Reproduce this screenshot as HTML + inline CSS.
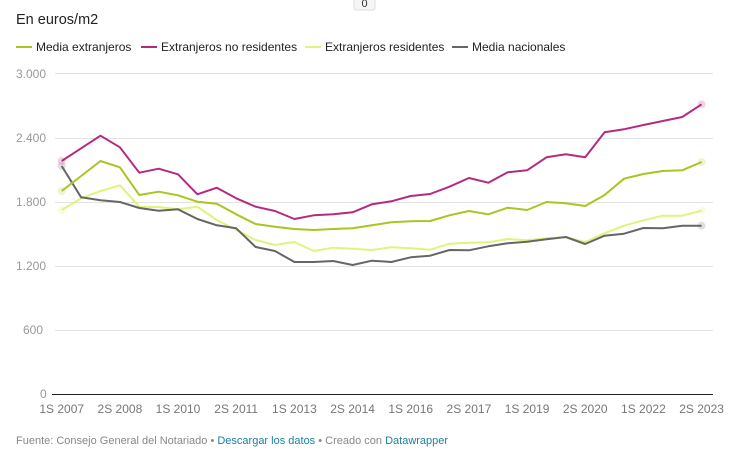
<!DOCTYPE html>
<html><head><meta charset="utf-8"><style>
body{margin:0;background:#fff;width:734px;height:466px;overflow:hidden;font-family:"Liberation Sans",sans-serif;}
svg{position:absolute;left:0;top:0}
</style></head><body>
<svg id="s" width="734" height="466" xmlns="http://www.w3.org/2000/svg" font-family="Liberation Sans, sans-serif">
<rect x="354" y="-4" width="21" height="14" rx="2" fill="#f6f6f6" stroke="#ddd"/>
<text x="364.5" y="7" font-size="11" fill="#333" text-anchor="middle">0</text>
<text x="16" y="24" font-size="14.5" fill="#222">En euros/m2</text>
<g font-size="12" fill="#222">
<rect x="16" y="46" width="16" height="2" fill="#a8c520"/><text x="36" y="51">Media extranjeros</text>
<rect x="141" y="46" width="16" height="2" fill="#b52a80"/><text x="161" y="51">Extranjeros no residentes</text>
<rect x="305" y="46" width="16" height="2" fill="#e2f27a"/><text x="325" y="51">Extranjeros residentes</text>
<rect x="452" y="46" width="16" height="2" fill="#666"/><text x="472" y="51">Media nacionales</text>
</g>
<g stroke="#e3e3e3" stroke-width="1">
<line x1="55" x2="713" y1="73.5" y2="73.5"/><line x1="55" x2="713" y1="138.5" y2="138.5"/>
<line x1="55" x2="713" y1="202.5" y2="202.5"/><line x1="55" x2="713" y1="266.5" y2="266.5"/>
<line x1="55" x2="713" y1="330.5" y2="330.5"/>
</g>
<line x1="52" x2="713" y1="394.5" y2="394.5" stroke="#222" stroke-width="1"/>
<g font-size="12" fill="#999">
<text x="16" y="78">3.000</text><text x="16" y="142">2.400</text><text x="16" y="206">1.800</text>
<text x="16" y="270">1.200</text><text x="23" y="334">600</text><text x="40" y="398">0</text>
</g>
<g id="xl" font-size="12" fill="#777" text-anchor="middle"></g>
<g id="ln" fill="none" stroke-width="2" stroke-linejoin="round"></g>
<text x="16" y="444" font-size="11" fill="#888">Fuente: Consejo General del Notariado • <tspan fill="#1d81a2">Descargar los datos</tspan> • Creado con <tspan fill="#1d81a2">Datawrapper</tspan></text>
</svg>
<script>
var NS="http://www.w3.org/2000/svg";
function X(i){return 61.7+19.39*i;}
var mag=[303,265,227,262,338,326,343,403,383,415,440,453,477,466,463,457,433,424,408,402,380,354,368,337,331,292,283,292,217,208,195,183,171,133];
var lime=[393,348,303,322,405,395,406,425,431,463,492,500,507,510,507,505,496,487,484,483,466,453,463,443,450,426,430,438,405,356,342,333,331,306];
var res=[450,415,393,376,440,441,448,440,480,510,540,555,546,573,563,566,570,562,565,569,551,548,547,537,541,535,532,546,520,497,481,467,467,452];
var gray=[318,412,421,426,444,452,448,477,496,505,561,573,606,606,603,615,602,606,592,587,570,571,559,550,545,538,531,552,527,521,504,505,497,497];
var ln=document.getElementById("ln");
[[res,"#e2f27a"],[gray,"#666"],[lime,"#a8c520"],[mag,"#b52a80"]].forEach(function(s){
var d=s[0];
[0,d.length-1].forEach(function(i){var c=document.createElementNS(NS,"circle");c.setAttribute("cx",X(i));c.setAttribute("cy",60+d[i]/3);c.setAttribute("r","4");c.setAttribute("fill",s[1]);c.setAttribute("fill-opacity","0.2");c.setAttribute("stroke","none");ln.appendChild(c);});
var p=d.map(function(z,i){return X(i).toFixed(1)+","+(60+z/3).toFixed(1);}).join(" ");
var e=document.createElementNS(NS,"polyline");e.setAttribute("points",p);e.setAttribute("stroke",s[1]);ln.appendChild(e);});
var labs=["1S 2007","2S 2008","1S 2010","2S 2011","1S 2013","2S 2014","1S 2016","2S 2017","1S 2019","2S 2020","1S 2022","2S 2023"];
var xl=document.getElementById("xl");
labs.forEach(function(l,k){var t=document.createElementNS(NS,"text");t.setAttribute("x",X(3*k).toFixed(1));t.setAttribute("y","413");t.textContent=l;xl.appendChild(t);});
</script>
</body></html>
